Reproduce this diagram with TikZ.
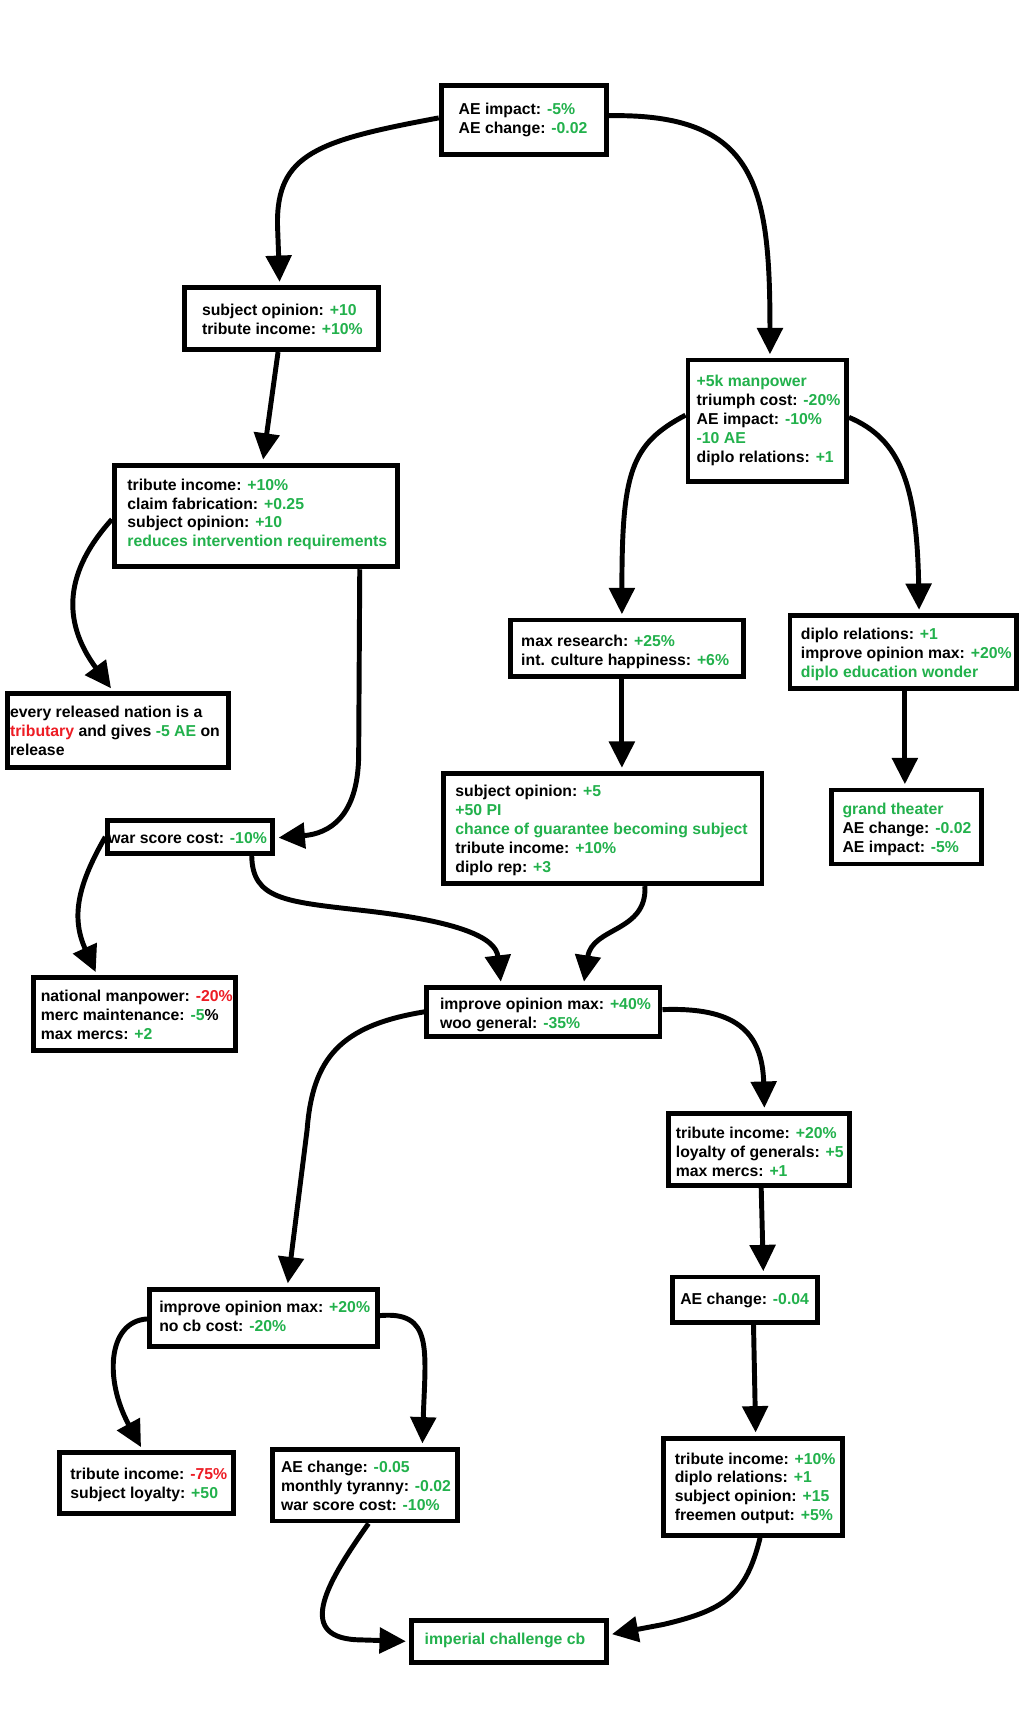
\documentclass[tikz,border=0pt]{standalone}
\usepackage{fontspec}
\setmainfont{Liberation Sans}
\usetikzlibrary{arrows.meta}
\definecolor{gr}{HTML}{22B14C}
\definecolor{rd}{HTML}{ED1C24}
\newcommand\gtxt[1]{\textcolor{gr}{#1}}
\newcommand\rtxt[1]{\textcolor{rd}{#1}}
\newcommand\mybox[8]{%
  \node[bx, minimum width={#4-#2-4.5}, minimum height={#5-#3-4.5}] (#1) at ({(#2+#4)/2},{(#3+#5)/2}) {};
  \node[txt, anchor=west] (#1t) at (#6,{#7+2}) {#8};}
\begin{document}
\begin{tikzpicture}[x=1pt,y=-1pt,
  bx/.style={draw, line width=4.5pt, inner sep=0pt},
  txt/.style={font=\bfseries\fontsize{14.4}{17.3}\selectfont, align=left, inner sep=0pt},
  arr/.style={line width=4.5pt, -{Triangle[length=24pt,width=23pt]}, shorten >=3pt}]
\useasboundingbox (0,0) rectangle (938,1570);
\fill[white] (0,0) rectangle (938,1570);

\mybox{b1}{400}{76}{555}{143}{418}{107.5}{AE impact: \gtxt{-5\%}\\AE change: \gtxt{-0.02}}
\mybox{b2}{166}{260}{347}{321}{184}{289.5}{subject opinion: \gtxt{+10}\\tribute income: \gtxt{+10\%}}
\mybox{b3}{102}{422}{365}{519}{116}{467}{tribute income: \gtxt{+10\%}\\claim fabrication: \gtxt{+0.25}\\subject opinion: \gtxt{+10}\\\gtxt{reduces intervention requirements}}
\mybox{b4}{5}{630}{211}{702}{9}{664.5}{every released nation is a\\\rtxt{tributary} and gives \gtxt{-5 AE} on\\release}
\mybox{b5}{96}{746}{251}{780}{98.5}{762}{war score cost: \gtxt{-10\%}}
\mybox{b6}{28}{889}{217}{960}{37}{923}{national manpower: \rtxt{-20\%}\\merc maintenance: \gtxt{-5}\%\\max mercs: \gtxt{+2}}
\mybox{b7}{625}{326}{774}{441}{635}{381.5}{\gtxt{+5k manpower}\\triumph cost: \gtxt{-20\%}\\AE impact: \gtxt{-10\%}\\\gtxt{-10 AE}\\diplo relations: \gtxt{+1}}
\mybox{b8}{463}{563}{680}{619}{475}{592}{max research: \gtxt{+25\%}\\int. culture happiness: \gtxt{+6\%}}
\mybox{b9}{718}{559}{929}{630}{730}{594.5}{diplo relations: \gtxt{+1}\\improve opinion max: \gtxt{+20\%}\\\gtxt{diplo education wonder}}
\mybox{b10}{756}{718}{897}{790}{768}{754.5}{\gtxt{grand theater}\\AE change: \gtxt{-0.02}\\AE impact: \gtxt{-5\%}}
\mybox{b11}{402}{703}{697}{808}{415}{755.5}{subject opinion: \gtxt{+5}\\\gtxt{+50 PI}\\\gtxt{chance of guarantee becoming subject}\\tribute income: \gtxt{+10\%}\\diplo rep: \gtxt{+3}}
\mybox{b12}{387}{898}{604}{947}{401}{923.5}{improve opinion max: \gtxt{+40\%}\\woo general: \gtxt{-35\%}}
\mybox{b13}{607}{1013}{777}{1083}{616}{1048.5}{tribute income: \gtxt{+20\%}\\loyalty of generals: \gtxt{+5}\\max mercs: \gtxt{+1}}
\mybox{b14}{611}{1162}{748}{1208}{620}{1184}{AE change: \gtxt{-0.04}}
\mybox{b15}{134}{1173}{346}{1230}{145}{1198}{improve opinion max: \gtxt{+20\%}\\no cb cost: \gtxt{-20\%}}
\mybox{b16}{52}{1322}{215}{1382}{64}{1351.5}{tribute income: \rtxt{-75\%}\\subject loyalty: \gtxt{+50}}
\mybox{b17}{246}{1319}{419}{1389}{256}{1353}{AE change: \gtxt{-0.05}\\monthly tyranny: \gtxt{-0.02}\\war score cost: \gtxt{-10\%}}
\mybox{b18}{603}{1309}{770}{1402}{615}{1355}{tribute income: \gtxt{+10\%}\\diplo relations: \gtxt{+1}\\subject opinion: \gtxt{+15}\\freemen output: \gtxt{+5\%}}
\mybox{b19}{373}{1475}{555}{1518}{387}{1494}{\gtxt{imperial challenge cb}}

% connectors
\draw[arr] ([yshift=2pt]b1.west) .. controls (290,128) and (252,140) .. (253,205) -- ([xshift=-1.5pt]b2.north);
\draw[arr] ([yshift=4pt]b1.east) .. controls (690,103) and (702,170) .. ([xshift=2.5pt]b7.north);
\draw[arr] ([xshift=-3pt]b2.south) -- ([xshift=6pt]b3.north);
\draw[arr] ([yshift=-3pt]b3.west) .. controls (60,520) and (55,565) .. ([xshift=-5pt]b4.north);
\draw[arr] ([xshift=94.5pt]b3.south) -- (327,690) .. controls (326,745) and (300,760) .. ([yshift=-1pt]b5.east);
\draw[arr] (b5.west) .. controls (72,805) and (64,835) .. ([xshift=-34pt]b6.north);
\draw[arr] ([xshift=56pt]b5.south) .. controls (230,820) and (260,822) .. (330,830) .. controls (420,840) and (452,855) .. ([xshift=-38.5pt]b12.north);
\draw[arr] ([xshift=38.5pt]b11.south) .. controls (590,850) and (540,845) .. ([xshift=36.5pt]b12.north);
\draw[arr] ([yshift=5pt]b7.west) .. controls (575,405) and (567,430) .. ([xshift=-4.5pt]b8.north);
\draw[arr] ([yshift=3pt]b7.east) .. controls (820,400) and (836,440) .. ([xshift=14.5pt]b9.north);
\draw[arr] ([xshift=-4.5pt]b8.south) -- ([xshift=17.5pt]b11.north);
\draw[arr] ([xshift=1.5pt]b9.south) -- ([xshift=-1.5pt]b10.north);
\draw[arr] ([yshift=0pt]b12.west) .. controls (310,935) and (285,965) .. (280,1030) -- ([xshift=22pt]b15.north);
\draw[arr] ([yshift=2pt]b12.east) .. controls (670,918) and (695,940) .. ([xshift=5pt]b13.north);
\draw[arr] ([xshift=2pt]b13.south) -- ([xshift=16.5pt]b14.north);
\draw[arr] ([xshift=7.5pt]b14.south) -- ([xshift=2.5pt]b18.north);
\draw[arr] ([yshift=-1pt]b15.west) .. controls (98,1205) and (95,1258) .. ([xshift=-3.5pt]b16.north);
\draw[arr] ([yshift=2pt]b15.east) .. controls (395,1195) and (388,1230) .. ([xshift=52.5pt]b17.north);
\draw[arr] ([xshift=3.5pt]b17.south) .. controls (300,1440) and (268,1492) .. (325,1495) -- (b19.west);
\draw[arr] ([xshift=6.5pt]b18.south) .. controls (680,1455) and (660,1468) .. (605,1481) -- ([yshift=6pt]b19.east);
\end{tikzpicture}
\end{document}
